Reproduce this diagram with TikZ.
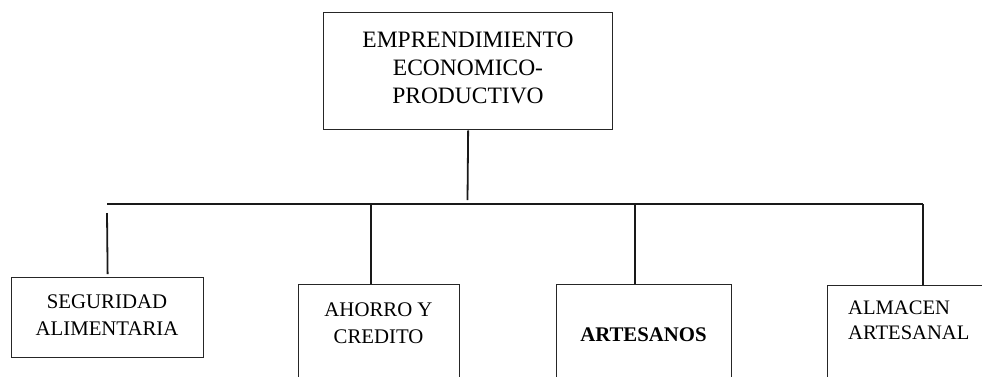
\documentclass[tikz,border=0pt]{standalone}
\usepackage{fontspec}
\setmainfont{Liberation Serif}
\begin{document}
\begin{tikzpicture}[x=1pt,y=-1pt,
  box/.style={draw=black!85,line width=1.3pt,rectangle,inner sep=0pt,anchor=north west},
  toptxt/.style={inner sep=0pt,align=center,anchor=south,font=\fontsize{23.5}{28}\selectfont},
  lowtxt/.style={inner sep=0pt,align=center,anchor=south,font=\fontsize{20.8}{27}\selectfont},
  conn/.style={draw=black!90,line width=1.8pt}]
\useasboundingbox (0,0) rectangle (982,376);
\clip (0,0) rectangle (982,376);
% boxes
\node[box,minimum width=289pt,minimum height=117pt] (top) at (323,12) {};
\node[box,minimum width=192pt,minimum height=80pt] (seg) at (11,277) {};
\node[box,minimum width=161pt,minimum height=130pt] (aho) at (298,284) {};
\node[box,minimum width=175pt,minimum height=130pt] (art) at (556,284) {};
\node[box,minimum width=175pt,minimum height=130pt] (alm) at (827,285) {};
% texts
\node[toptxt] (ttop) at (468,104) {EMPRENDIMIENTO\\ECONOMICO-\\PRODUCTIVO};
\node[lowtxt] (tseg) at (107,336) {SEGURIDAD\\ALIMENTARIA};
\node[lowtxt] (taho) at (378.5,344) {AHORRO Y\\CREDITO};
\node[lowtxt,font=\fontsize{20.8}{27}\selectfont\bfseries] (tart) at (643.5,342) {ARTESANOS};
\node[lowtxt,align=left,anchor=south west,font=\fontsize{20.6}{25}\selectfont] (talm) at (848,340) {ALMACEN\\ARTESANAL};
% connector points
\coordinate (hub) at (467.5,200);
\coordinate (bl) at (107,204);
\coordinate (br) at (923,204);
\coordinate (s1) at (107,213);
\coordinate (d2) at (371,204);
\coordinate (d3) at (635,204);
% connectors
\draw[conn] (top.south) -- (hub);
\draw[conn,line width=1.5pt] (bl) -- (br);
\draw[conn,shorten >=3pt] (s1) -- (seg.north);
\draw[conn] (d2) -- (d2 |- aho.north);
\draw[conn] (d3) -- (d3 |- art.north);
\draw[conn] (br) -- (br |- alm.north);
\end{tikzpicture}
\end{document}
